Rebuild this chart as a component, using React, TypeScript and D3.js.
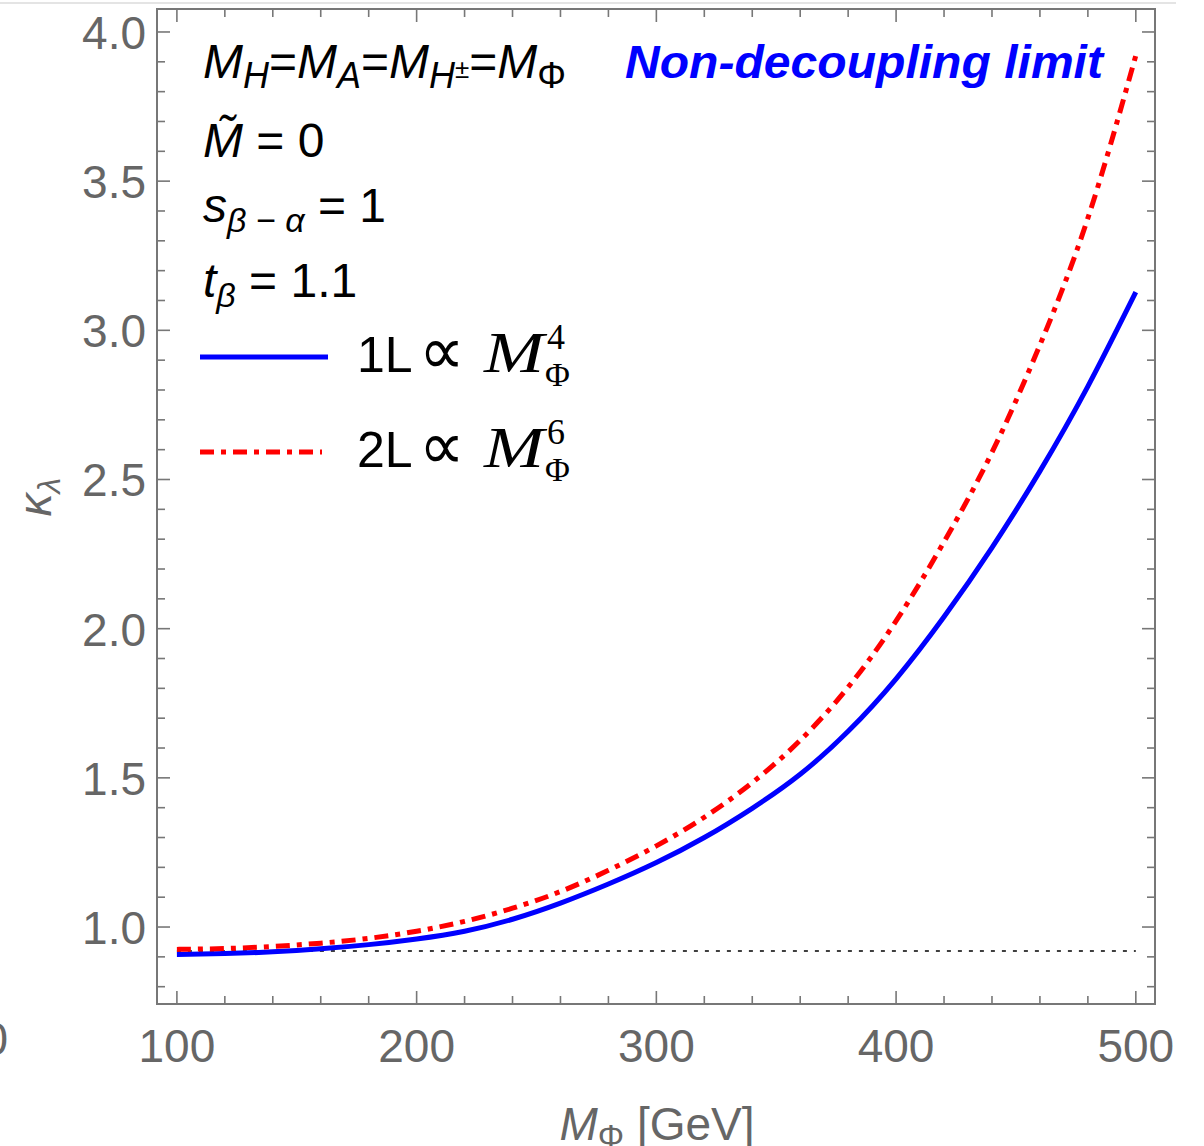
import React from 'react';
import * as d3 from 'd3';

// ---- data ----
const masses = [100, 120, 140, 160, 180, 200, 220, 240, 260, 280, 300, 320, 340, 360, 380, 400, 420, 440, 460, 480, 500];
const kappa1L = [0.908, 0.911, 0.917, 0.927, 0.941, 0.960, 0.986, 1.026, 1.080, 1.144, 1.216, 1.300, 1.398, 1.512, 1.656, 1.832, 2.040, 2.272, 2.528, 2.812, 3.128];
const kappa2L = [0.925, 0.928, 0.935, 0.946, 0.962, 0.986, 1.019, 1.063, 1.119, 1.190, 1.272, 1.368, 1.484, 1.626, 1.804, 2.026, 2.291, 2.591, 2.951, 3.376, 3.921];
const smReference = 0.92;
const xMajorTicks = [100, 200, 300, 400, 500];
const xTickLabels = ['100', '200', '300', '400', '500'];
const yMajorTicks = [1.0, 1.5, 2.0, 2.5, 3.0, 3.5, 4.0];
const yTickLabels = ['1.0', '1.5', '2.0', '2.5', '3.0', '3.5', '4.0'];
const xDomain = [91.7, 508];
const yDomain = [0.742, 4.077];

const W = 1204;
const H = 1146;
const L = 157, R = 1155, T = 9, B = 1004;

const GRAY = '#777';
const LABEL = '#666';
const SANS = '"Liberation Sans", Arial, sans-serif';
const SERIF = '"Liberation Serif", "Times New Roman", serif';

export default function App() {
  const x = d3.scaleLinear().domain(xDomain).range([L, R]);
  const y = d3.scaleLinear().domain(yDomain).range([B, T]);

  const xMinor = d3.range(100, 501, 20).filter((v) => !xMajorTicks.includes(v));
  const yMinor = d3.range(8, 41, 1).map((v) => v / 10).filter((v) => !yMajorTicks.some((m) => Math.abs(m - v) < 1e-6));

  const line = d3
    .line<number>()
    .x((_, i) => x(masses[i]))
    .y((d) => y(d))
    .curve(d3.curveNatural);

  const maj = 13;
  const min = 8;

  return (
    <svg width={W} height={H} style={{ position: 'absolute', left: 0, top: 0, background: '#fff' }}>
      <rect x={0} y={0} width={W} height={H} fill="#fff" />
      {/* image border artifacts */}
      <line x1={0} x2={1176} y1={3} y2={3} stroke="#e4e4e4" strokeWidth={2} />
      <text x={8} y={1055} textAnchor="end" fontFamily={SANS} fontSize={46} fill={LABEL}>0</text>

      {/* frame */}
      <rect x={L} y={T} width={R - L} height={B - T} fill="none" stroke={GRAY} strokeWidth={2} />

      {/* ticks */}
      <g stroke={GRAY} strokeWidth={1.6}>
        {xMajorTicks.map((v) => (
          <g key={'xm' + v}>
            <line x1={x(v)} x2={x(v)} y1={B} y2={B - maj} />
            <line x1={x(v)} x2={x(v)} y1={T} y2={T + maj} />
          </g>
        ))}
        {xMinor.map((v) => (
          <g key={'xn' + v}>
            <line x1={x(v)} x2={x(v)} y1={B} y2={B - min} />
            <line x1={x(v)} x2={x(v)} y1={T} y2={T + min} />
          </g>
        ))}
        {yMajorTicks.map((v) => (
          <g key={'ym' + v}>
            <line x1={L} x2={L + maj} y1={y(v)} y2={y(v)} />
            <line x1={R} x2={R - maj} y1={y(v)} y2={y(v)} />
          </g>
        ))}
        {yMinor.map((v) => (
          <g key={'yn' + v}>
            <line x1={L} x2={L + min} y1={y(v)} y2={y(v)} />
            <line x1={R} x2={R - min} y1={y(v)} y2={y(v)} />
          </g>
        ))}
      </g>

      {/* tick labels */}
      <g fontFamily={SANS} fontSize={46} fill={LABEL}>
        {xMajorTicks.map((v, i) => (
          <text key={'xl' + v} x={x(v)} y={1062} textAnchor="middle">{xTickLabels[i]}</text>
        ))}
        {yMajorTicks.map((v, i) => (
          <text key={'yl' + v} x={146} y={y(v) + 17} textAnchor="end">{yTickLabels[i]}</text>
        ))}
      </g>

      {/* axis labels */}
      <text x={657} y={1140} textAnchor="middle" fontFamily={SANS} fontSize={46} fill={LABEL}>
        <tspan fontStyle="italic">M</tspan>
        <tspan fontSize={33} dy={8}>Φ</tspan>
        <tspan dy={-8}> [GeV]</tspan>
      </text>
      <text transform="translate(51,497) rotate(-90)" textAnchor="middle" fontFamily={SANS} fontSize={46} fill={LABEL}>
        <tspan fontStyle="italic">κ</tspan>
        <tspan fontSize={32} dy={9} fontStyle="italic">λ</tspan>
      </text>

      {/* reference dotted line */}
      <line x1={x(100)} x2={x(500)} y1={y(smReference)} y2={y(smReference)} stroke="#000" strokeWidth={1.5} strokeDasharray="4,7" />

      {/* curves */}
      <path d={line(kappa1L) || ''} fill="none" stroke="#0000ff" strokeWidth={5} />
      <path d={line(kappa2L) || ''} fill="none" stroke="#ff0000" strokeWidth={5} strokeDasharray="14,7,5,7" />

      {/* annotation text */}
      <g fontFamily={SANS} fontSize={48} fill="#000">
        <text x={203} y={78}>
          <tspan fontStyle="italic">M</tspan>
          <tspan fontStyle="italic" fontSize={36} dy={10}>H</tspan>
          <tspan dy={-10}>=</tspan>
          <tspan fontStyle="italic">M</tspan>
          <tspan fontStyle="italic" fontSize={36} dy={10}>A</tspan>
          <tspan dy={-10}>=</tspan>
          <tspan fontStyle="italic">M</tspan>
          <tspan fontStyle="italic" fontSize={36} dy={10}>H</tspan>
          <tspan fontSize={26} dy={-10}>±</tspan>
          <tspan>=</tspan>
          <tspan fontStyle="italic">M</tspan>
          <tspan fontSize={36} dy={10}>Φ</tspan>
        </text>
        <text x={203} y={157}>
          <tspan fontStyle="italic">M̃</tspan>
          <tspan> = 0</tspan>
        </text>
        <text x={203} y={222}>
          <tspan fontStyle="italic">s</tspan>
          <tspan fontStyle="italic" fontSize={34} dy={10}>β − α</tspan>
          <tspan dy={-10}> = 1</tspan>
        </text>
        <text x={203} y={297}>
          <tspan fontStyle="italic">t</tspan>
          <tspan fontStyle="italic" fontSize={34} dy={10}>β</tspan>
          <tspan dy={-10}> = 1.1</tspan>
        </text>
      </g>
      <text x={625} y={78} fontFamily={SANS} fontSize={46} fontWeight="bold" fontStyle="italic" fill="#0000ff" textLength={478} lengthAdjust="spacingAndGlyphs">
        Non-decoupling limit
      </text>

      {/* legend */}
      <line x1={200} x2={328} y1={357} y2={357} stroke="#0000ff" strokeWidth={5} />
      <line x1={200} x2={322} y1={452} y2={452} stroke="#ff0000" strokeWidth={5} strokeDasharray="14,7,5,7" />
      {[
        { lab: '1L', sup: '4', base: 372 },
        { lab: '2L', sup: '6', base: 467 },
      ].map((e) => (
        <g key={e.lab} fill="#000">
          <text x={357} y={e.base} fontFamily={SANS} fontSize={50}>{e.lab}</text>
          <text x={419} y={e.base + 2} fontFamily={SERIF} fontSize={68} textLength={46} lengthAdjust="spacingAndGlyphs">∝</text>
          <text x={484} y={e.base} fontFamily={SERIF} fontStyle="italic" fontSize={56} textLength={60} lengthAdjust="spacingAndGlyphs">M</text>
          <text x={547} y={e.base - 23} fontFamily={SERIF} fontSize={36}>{e.sup}</text>
          <text x={545} y={e.base + 14} fontFamily={SERIF} fontSize={34}>Φ</text>
        </g>
      ))}
    </svg>
  );
}
